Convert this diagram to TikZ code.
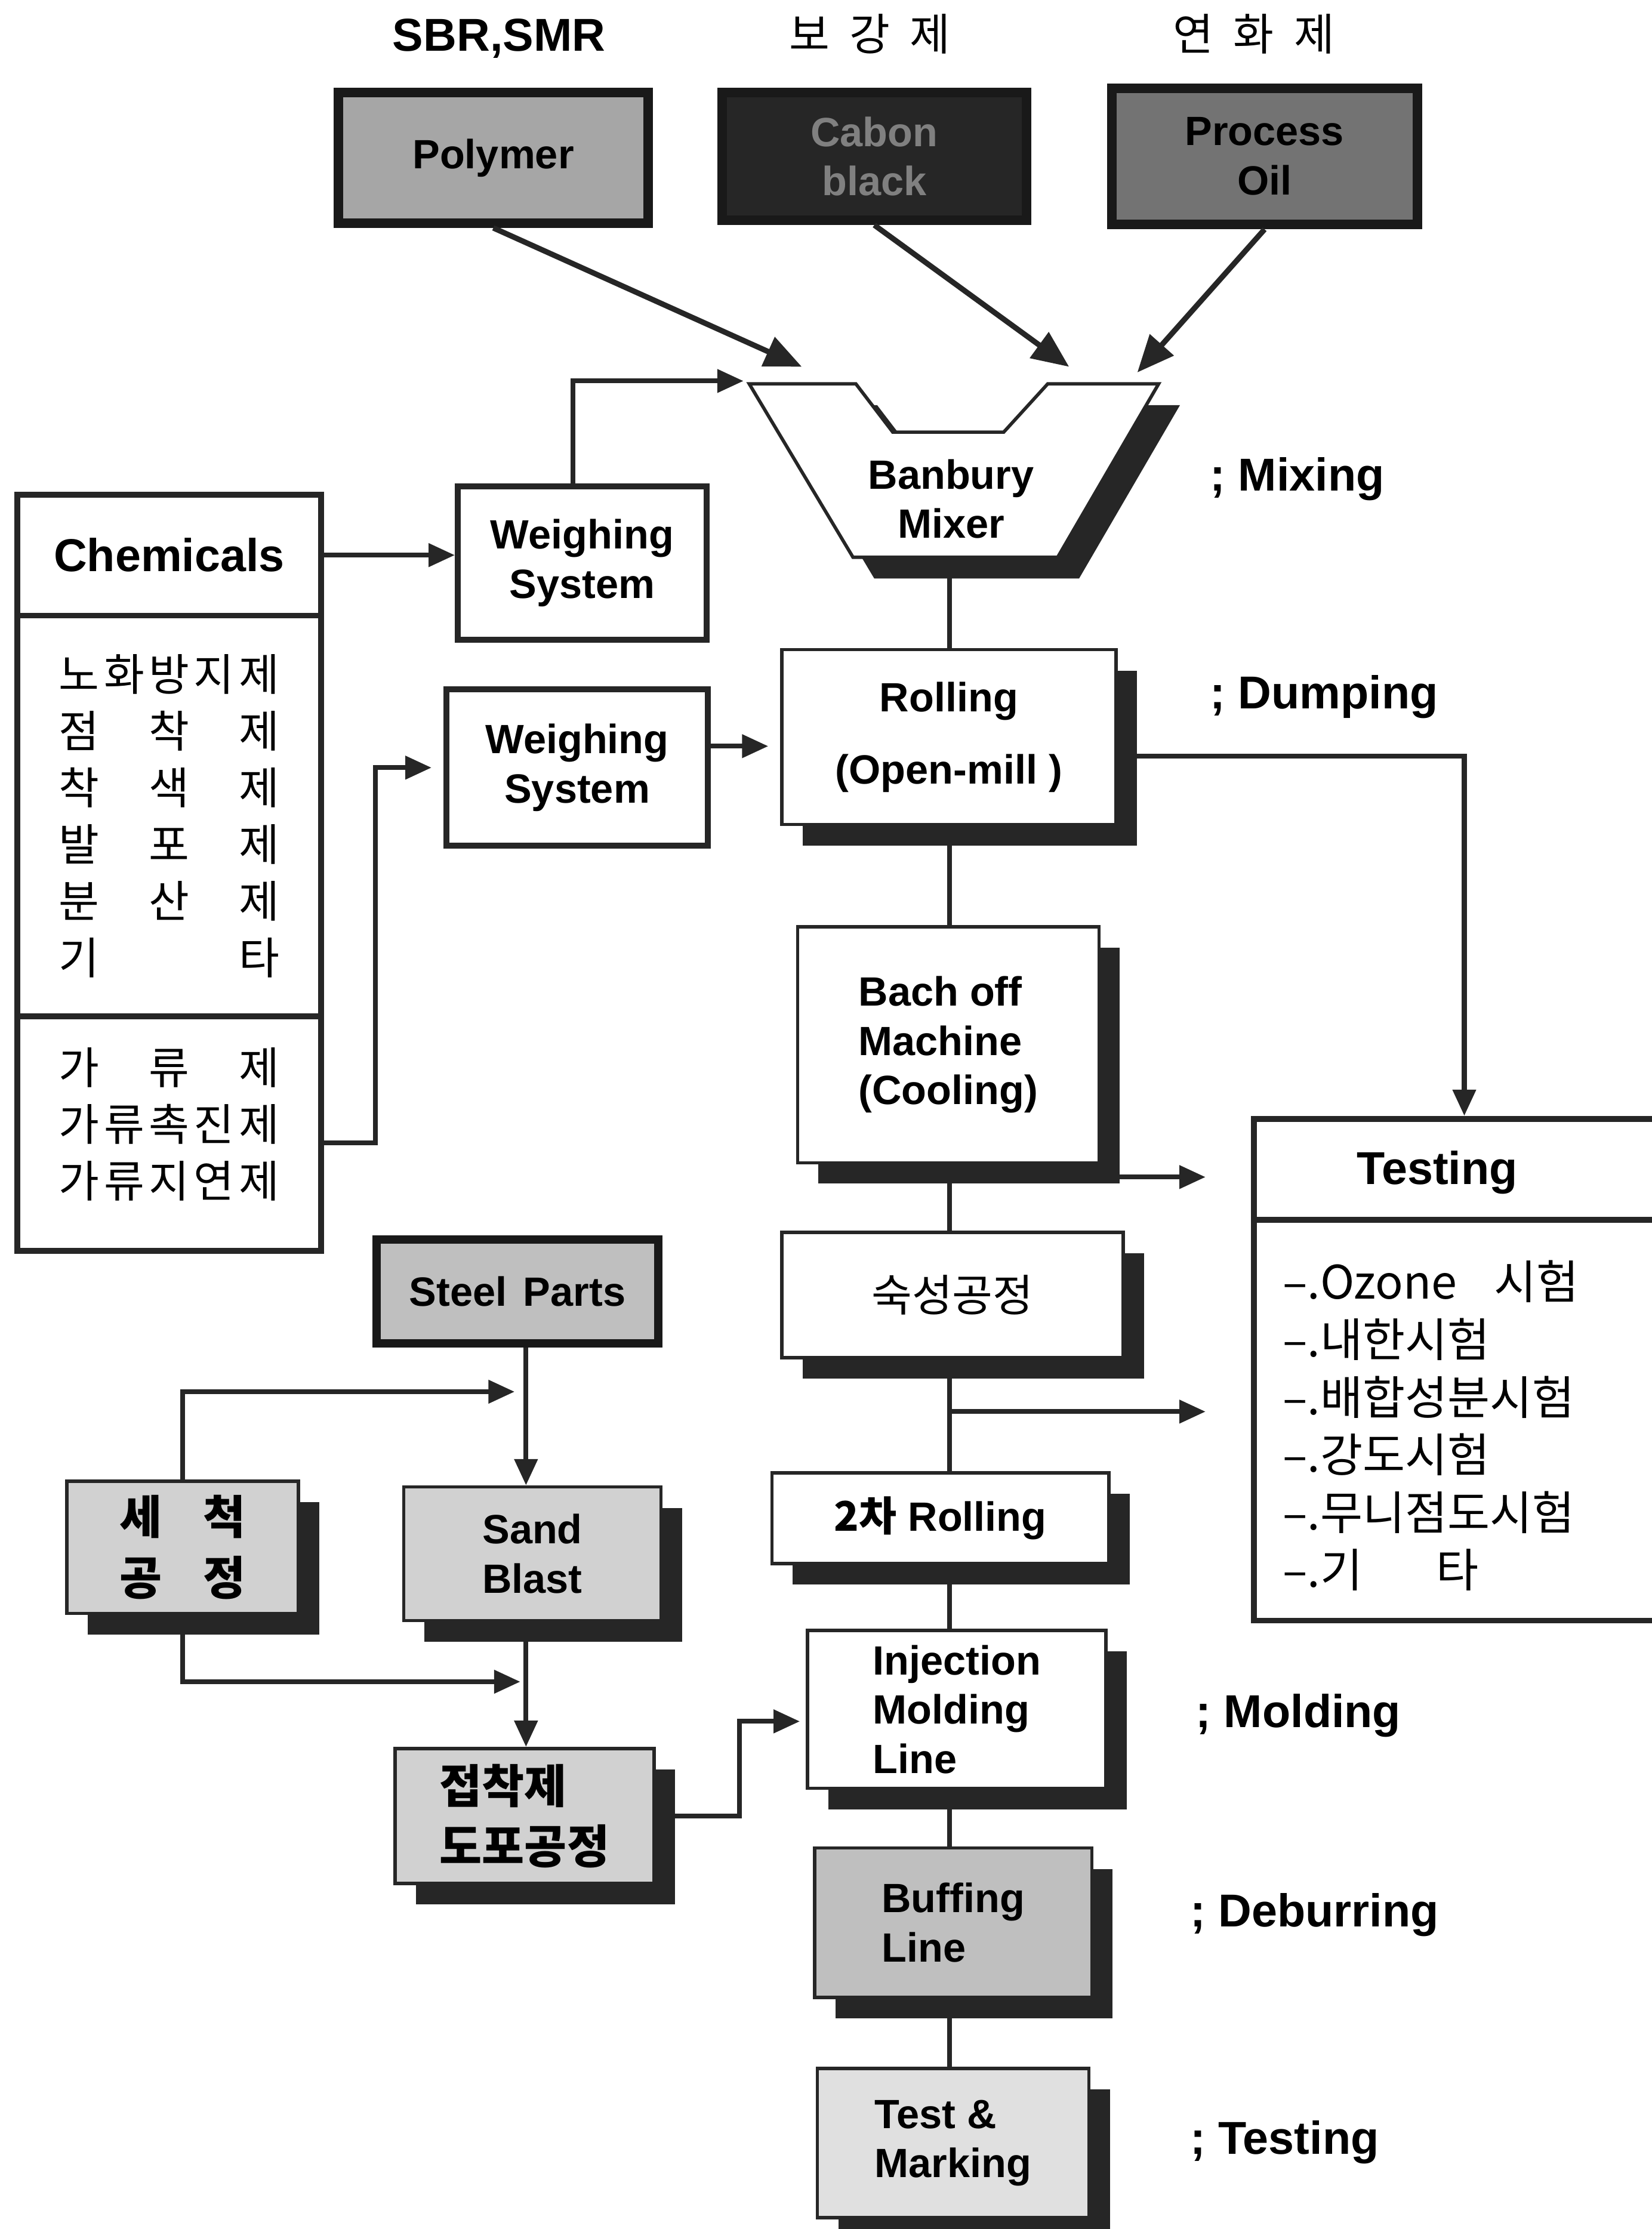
\documentclass[tikz,border=0pt]{standalone}
\usepackage{fontspec}
\setmainfont{Liberation Sans}
\newfontfamily\kr{Noto Sans CJK KR}
\usetikzlibrary{arrows.meta,shadows,calc}
\begin{document}
\begin{tikzpicture}[x=0.02383cm,y=-0.02383cm,
 boxat/.style n args={4}{at={({(#1+#3)/2},{(#2+#4)/2})},minimum width={(#3-#1)*0.02383cm},minimum height={(#4-#2)*0.02383cm}},
 conn/.style={draw=black!85,line width=2.3pt},
 arr/.style={conn,-{Triangle[length=0.44cm,width=0.38cm]}},
 bigarr/.style={conn,line width=2.6pt,-{Triangle[length=0.62cm,width=0.52cm]}},
 shadowed/.style={drop shadow={shadow xshift=0.35cm,shadow yshift=-0.35cm,fill=black!85,opacity=1}},
 proc/.style={draw=black!85,line width=1.6pt,fill=white,inner sep=0pt,shadowed,align=center,font=\bfseries\fontsize{19.5}{23.5}\selectfont},
 plainbox/.style={draw=black!85,line width=2.8pt,fill=white,inner sep=0pt,align=center,font=\bfseries\fontsize{19.5}{23.5}\selectfont},
 topbox/.style={draw=black!90,line width=4.5pt,inner sep=0pt,align=center,font=\bfseries\fontsize{19.5}{23.5}\selectfont},
 ann/.style={anchor=west,font=\bfseries\fontsize{22}{26}\selectfont},
 krtxt/.style={font=\kr\fontsize{21}{27}\selectfont},
 krbold/.style={font=\kr\bfseries\fontsize{22}{29}\selectfont}
]
\useasboundingbox (0,0) rectangle (1162,1568);
\clip (0,0) rectangle (1162,1568);
\fill[white] (0,0) rectangle (1162,1568);

% top labels
\node[font=\bfseries\fontsize{22}{26}\selectfont] (lsbr) at (351,27) {SBR,SMR};
\node[krtxt] (lbo) at (612,24) {보\hspace{0.45em}강\hspace{0.45em}제};
\node[krtxt] (lyeon) at (882,24) {연\hspace{0.45em}화\hspace{0.45em}제};

% top boxes
\node[topbox,fill=black!35,boxat={238}{65}{456}{157}] (poly) {Polymer};
\node[topbox,fill=black!85,text=black!50,boxat={508}{65}{722}{155}] (carbon) {Cabon\\black};
\node[topbox,fill=black!55,boxat={782}{62}{997}{158}] (oil) {Process\\Oil};

% Banbury mixer
\fill[black!85,shift={(15,15)}] (527,270) -- (602,270) -- (628,304) -- (706,304) -- (737,270) -- (815,270) -- (744,392) -- (600,392) -- cycle;
\draw[black!85,line width=1.6pt,fill=white] (527,270) -- (602,270) -- (628,304) -- (706,304) -- (737,270) -- (815,270) -- (744,392) -- (600,392) -- cycle;
\node[font=\bfseries\fontsize{19.5}{23.5}\selectfont,align=center] (banbury) at (669,351) {Banbury\\Mixer};
\coordinate (bbot) at (668,392);
\coordinate (in1) at (564,258);
\coordinate (in2) at (752,258);
\coordinate (in3) at (800,262);
\coordinate (in4) at (523,268);

% weighing systems
\node[plainbox,boxat={322}{342}{497}{450}] (w1) {Weighing\\System};
\node[plainbox,boxat={314}{485}{498}{595}] (w2) {Weighing\\System};

% chemicals
\node[plainbox,boxat={12}{348}{226}{433},font=\bfseries\fontsize{22}{26}\selectfont] (chemtitle) {Chemicals};
\node[plainbox,boxat={12}{433}{226}{715},krtxt] (chemmid) {%
\makebox[3.7cm]{노\hfill 화\hfill 방\hfill 지\hfill 제}\\
\makebox[3.7cm]{점\hfill 착\hfill 제}\\
\makebox[3.7cm]{착\hfill 색\hfill 제}\\
\makebox[3.7cm]{발\hfill 포\hfill 제}\\
\makebox[3.7cm]{분\hfill 산\hfill 제}\\
\makebox[3.7cm]{기\hfill 타}};
\node[plainbox,boxat={12}{715}{226}{880},krtxt] (chemlow) {%
\makebox[3.7cm]{가\hfill 류\hfill 제}\\
\makebox[3.7cm]{가\hfill 류\hfill 촉\hfill 진\hfill 제}\\
\makebox[3.7cm]{가\hfill 류\hfill 지\hfill 연\hfill 제}\\[-0.57cm]};

% main column
\node[proc,boxat={550}{457}{785}{580}] (rolling) {Rolling\\[0.38cm](Open-mill )};
\node[proc,boxat={561}{652}{773}{818},align=left] (bach) {Bach off\\Machine\\(Cooling)};
\node[proc,boxat={550}{867}{790}{955},font=\kr\fontsize{21}{26}\selectfont] (suk) {숙성공정};
\node[proc,boxat={543}{1036}{780}{1100}] (roll2) {{\kr 2차} Rolling};
\node[proc,boxat={568}{1147}{778}{1258},align=left] (inj) {Injection\\Molding\\Line};
\node[proc,fill=black!25,boxat={573}{1300}{768}{1405},align=left] (buff) {Buffing\\Line};
\node[proc,fill=black!12,boxat={575}{1455}{766}{1560},align=left] (tm) {Test \&\\Marking};

% testing box
\node[plainbox,boxat={882}{787}{1178}{858}] (testtitle) {};
\node[plainbox,boxat={882}{858}{1178}{1140}] (testbody) {};
\node[font=\bfseries\fontsize{22}{26}\selectfont] (testlabel) at (1011,825) {Testing};
\node[anchor=west,align=left,font=\kr\fontsize{22}{27.5}\selectfont] (testlist) at (897,1003) {%
–.Ozone\hspace{0.8em}시험\\
–.내한시험\\
–.배합성분시험\\
–.강도시험\\
–.무니점도시험\\
–.기\hspace{1.6em}타};

% annotations
\node[ann] (amix) at (846,337) {; Mixing};
\node[ann] (adump) at (846,490) {; Dumping};
\node[ann] (amold) at (836,1207) {; Molding};
\node[ann] (adeb) at (832,1347) {; Deburring};
\node[ann] (atest) at (832,1507) {; Testing};

% lower left
\node[topbox,line width=4pt,fill=black!25,boxat={265}{872}{463}{945}] (steel) {Steel\hspace{0.4em}Parts};
\node[proc,fill=black!18,boxat={47}{1042}{210}{1135},krbold] (wash) {세\hspace{0.9em}척\\공\hspace{0.9em}정};
\node[proc,fill=black!18,boxat={284}{1046}{465}{1140}] (sand) {Sand\\Blast};
\node[proc,fill=black!18,boxat={278}{1230}{460}{1325},align=left,krbold] (glue) {접착제\\도포공정};

% connectors: top inputs
\draw[bigarr] (poly.south) -- (in1);
\draw[bigarr] (carbon.south) -- (in2);
\draw[bigarr] (oil.south) -- (in3);
\draw[arr] ([xshift=-0.15cm]w1.north) |- (in4);
\draw[arr] (chemtitle.east) -- (chemtitle.east -| w1.west);
\draw[arr,shorten >=0.2cm] ([yshift=-0.15cm]chemlow.east) -- ++(36,0) |- (w2.west);
\draw[arr,shorten >=0.2cm] ([yshift=0.36cm]w2.east) -- ([yshift=0.36cm]w2.east -| rolling.west);

% main column connectors
\coordinate (col) at (668,0);
\draw[conn] (bbot) -- (rolling.north -| bbot);
\draw[arr] ([yshift=-0.32cm]rolling.east) -| (testtitle.north);
\draw[conn] (rolling.south -| col) -- (bach.north -| col);
\draw[conn] (bach.south -| col) -- (suk.north -| col);
\coordinate (t1) at (848,828);
\draw[arr] (t1 -| col) -- (t1);
\draw[conn] (suk.south -| col) -- (roll2.north -| col);
\coordinate (t2) at (848,993);
\draw[arr] (t2 -| col) -- (t2);
\draw[conn] (roll2.south -| col) -- (inj.north -| col);
\draw[conn] (inj.south -| col) -- (buff.north -| col);
\draw[conn] (buff.south -| col) -- (tm.north -| col);

% lower left connectors
\coordinate (lc) at (370,0);
\draw[arr] (steel.south -| lc) -- (sand.north -| lc);
\coordinate (c1) at (362,979);
\draw[arr] (wash.north) |- (c1);
\coordinate (c2) at (366,1183);
\draw[arr] (wash.south) |- (c2);
\draw[arr] (sand.south -| lc) -- (glue.north -| lc);
\coordinate (c3) at (520,1240);
\draw[arr,shorten >=0.1cm] (glue.east) -| (c3) |- ([yshift=-0.2cm]inj.west);
\end{tikzpicture}
\end{document}
